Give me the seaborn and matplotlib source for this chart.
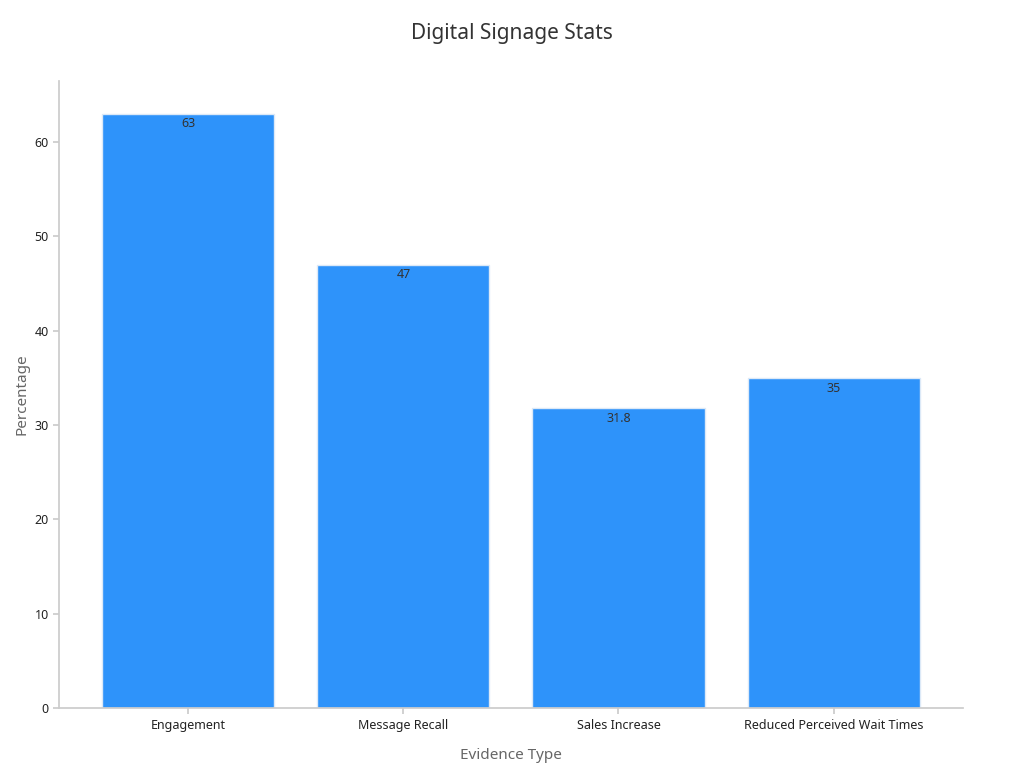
import matplotlib
matplotlib.use("Agg")
import matplotlib.pyplot as plt
import seaborn as sns
import pandas as pd

categories = ["Engagement", "Message Recall", "Sales Increase", "Reduced Perceived Wait Times"]
values = [63, 47, 31.8, 35]
labels = ["63", "47", "31.8", "35"]

sns.set_theme(style="ticks")
plt.rcParams['font.family'] = ['Noto Sans', 'DejaVu Sans']

df = pd.DataFrame({"Evidence Type": categories, "Percentage": values})
fig, ax = plt.subplots(figsize=(10.24, 7.68), dpi=100)
sns.barplot(data=df, x="Evidence Type", y="Percentage", color="#2e93fa",
            saturation=1, width=0.8, edgecolor="#dce9f7", linewidth=1, ax=ax)
for p, lab in zip(ax.patches, labels):
    ax.text(p.get_x() + p.get_width() / 2, p.get_height() - 0.4, lab,
            ha="center", va="top", fontsize=9, color="#333333")

ax.set_ylim(0, 66.5)
ax.set_yticks(range(0, 70, 10))
ax.tick_params(labelsize=9, colors="#333333", length=4)
ax.tick_params(colors="#cccccc", which="both")
for t in ax.get_xticklabels() + ax.get_yticklabels():
    t.set_color("#222222")
ax.set_xlabel("Evidence Type", fontsize=11, color="#666666", labelpad=12)
ax.set_ylabel("Percentage", fontsize=11, color="#666666")
for s in ["left", "bottom"]:
    ax.spines[s].set_color("#cccccc")
sns.despine(ax=ax)
ax.set_xlim(-0.6, 3.6)
fig.suptitle("Digital Signage Stats", fontsize=15, color="#333333", y=0.97)
fig.subplots_adjust(left=0.058, right=0.94, top=0.895, bottom=0.078)
fig.savefig("out.png")
